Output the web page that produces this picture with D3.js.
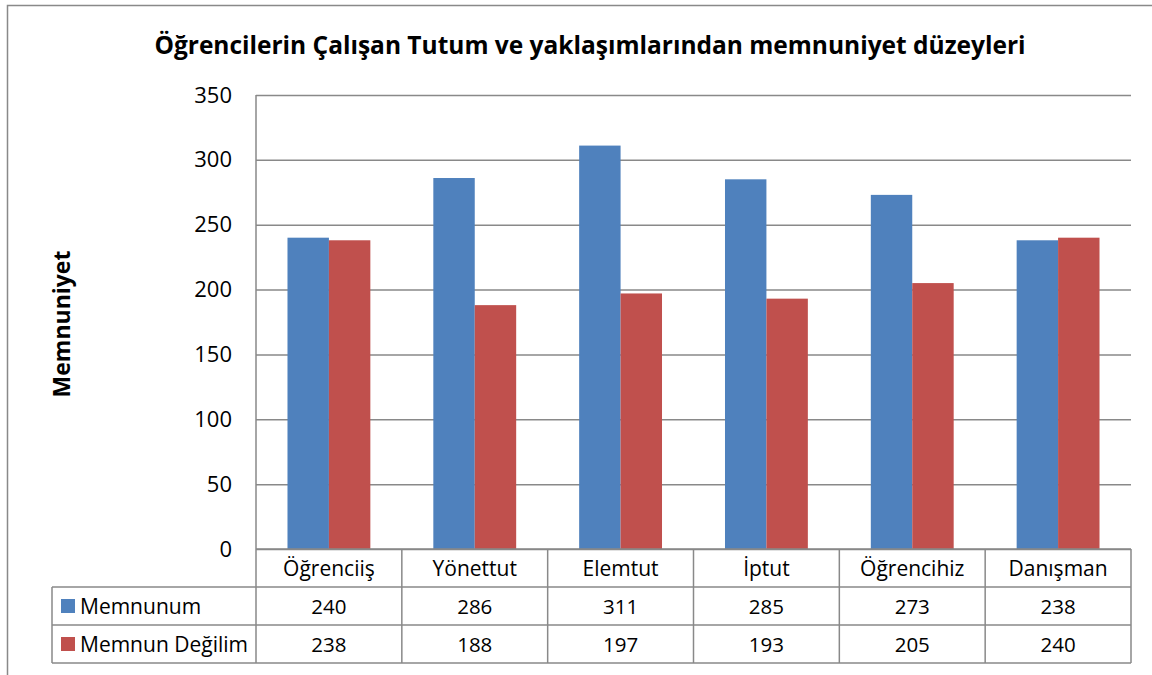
<!DOCTYPE html>
<html>
<head>
<meta charset="utf-8">
<script src="https://cdn.jsdelivr.net/npm/d3@7"></script>
<style>
	body { margin: 0; background: #fff; }
	svg { display: block; font-family: 'Open Sans', sans-serif; }
</style>
</head>
<body>
<svg id="chart" width="1152" height="675"></svg>
<script>
'use strict'

var categories = ['Öğrenciiş', 'Yönettut', 'Elemtut', 'İptut', 'Öğrencihiz', 'Danışman'];
var seriesNames = ['Memnunum', 'Memnun Değilim'];
var memnunum = [240, 286, 311, 285, 273, 238];
var memnunDegilim = [238, 188, 197, 193, 205, 240];
var yTicks = [0, 50, 100, 150, 200, 250, 300, 350];
var colors = ['#4F81BD', '#C0504D'];

var series = [memnunum, memnunDegilim];

var svg = d3.select('#chart');
var grid = '#898989';

var plotL = 256, plotR = 1131, plotT = 95, plotB = 549;
var rowH = 38;

// outer frame
svg.append('rect')
	.attr('x', 7.5).attr('y', 5.5)
	.attr('width', 1170).attr('height', 700)
	.attr('fill', 'none').attr('stroke', grid).attr('stroke-width', 1.5);

svg.append('text')
	.attr('x', 590).attr('y', 54)
	.attr('text-anchor', 'middle')
	.attr('font-size', 24.5).attr('font-weight', 'bold')
	.text('Öğrencilerin Çalışan Tutum ve yaklaşımlarından memnuniyet düzeyleri');

var y = d3.scaleLinear().domain([0, 350]).range([plotB, plotT]);
var x = d3.scaleBand().domain(categories).range([plotL, plotR]);
var xs = d3.scaleBand().domain(seriesNames).range([0, x.bandwidth()]).paddingOuter(0.76);

// gridlines + tick labels
var yAxis = d3.axisLeft(y).tickValues(yTicks).tickSize(-(plotR - plotL)).tickPadding(24);
var ga = svg.append('g').attr('transform', `translate(${plotL},0)`).call(yAxis);
ga.select('.domain').remove();
ga.selectAll('.tick line').attr('stroke', grid).attr('stroke-width', 1.5);
ga.selectAll('.tick text').attr('font-size', 22).attr('fill', '#000')
	.attr('font-family', "'Open Sans', sans-serif");

svg.append('text')
	.attr('transform', 'translate(70,324) rotate(-90)')
	.attr('text-anchor', 'middle')
	.attr('font-size', 23).attr('font-weight', 'bold')
	.text('Memnuniyet');

// bars
series.forEach(function(vals, si){
	svg.append('g').selectAll('rect')
		.data(vals)
		.join('rect')
		.attr('x', function(d, i){ return x(categories[i]) + xs(seriesNames[si]); })
		.attr('y', function(d){ return y(d); })
		.attr('width', xs.bandwidth())
		.attr('height', function(d){ return y(0) - y(d); })
		.attr('fill', colors[si]);
});

// data table
var tbl = svg.append('g').attr('stroke', grid).attr('stroke-width', 1.5);
tbl.append('line').attr('x1', plotL).attr('x2', plotL).attr('y1', plotT).attr('y2', plotB + rowH * 3);
categories.forEach(function(c){
	var xr = x(c) + x.bandwidth();
	tbl.append('line').attr('x1', xr).attr('x2', xr).attr('y1', plotB).attr('y2', plotB + rowH * 3);
});
tbl.append('line').attr('x1', plotL).attr('x2', plotR).attr('y1', plotB).attr('y2', plotB);
[1, 2, 3].forEach(function(r){
	tbl.append('line').attr('x1', 52).attr('x2', plotR)
		.attr('y1', plotB + rowH * r).attr('y2', plotB + rowH * r);
});
tbl.append('line').attr('x1', 52).attr('x2', 52).attr('y1', plotB + rowH).attr('y2', plotB + rowH * 3);

svg.append('g').selectAll('text')
	.data(categories)
	.join('text')
	.attr('x', function(d){ return x(d) + x.bandwidth() / 2; })
	.attr('y', plotB + rowH / 2 + 8)
	.attr('text-anchor', 'middle')
	.attr('font-size', 21)
	.text(function(d){ return d; });

series.forEach(function(vals, si){
	var ry = plotB + rowH * (si + 1);
	svg.append('rect')
		.attr('x', 61).attr('y', ry + 12)
		.attr('width', 14).attr('height', 14)
		.attr('fill', colors[si]);
	svg.append('text')
		.attr('x', 80).attr('y', ry + rowH / 2 + 8)
		.attr('font-size', 21)
		.text(seriesNames[si]);
	svg.append('g').selectAll('text')
		.data(vals)
		.join('text')
		.attr('x', function(d, i){ return x(categories[i]) + x.bandwidth() / 2; })
		.attr('y', ry + rowH / 2 + 8)
		.attr('text-anchor', 'middle')
		.attr('font-size', 20.5)
		.text(function(d){ return d; });
});
</script>
</body>
</html>
